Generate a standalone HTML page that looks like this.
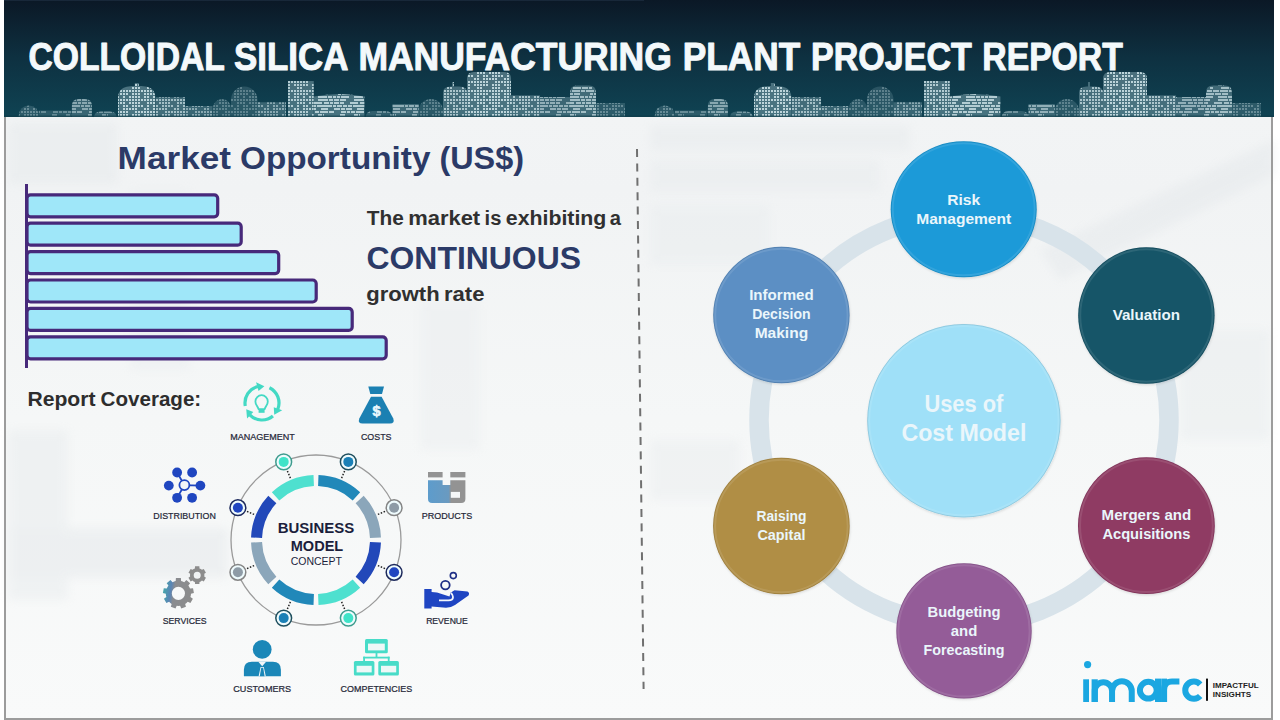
<!DOCTYPE html>
<html><head><meta charset="utf-8"><style>
html,body{margin:0;padding:0;width:1280px;height:720px;overflow:hidden;background:#fff}
svg{display:block;font-family:"Liberation Sans",sans-serif}
</style></head><body>
<svg width="1280" height="720" viewBox="0 0 1280 720">
<defs>
<linearGradient id="hdr" x1="0" y1="0" x2="0" y2="1">
<stop offset="0" stop-color="#0b1826"/><stop offset="0.5" stop-color="#0e3141"/><stop offset="1" stop-color="#0f4353"/>
</linearGradient>
<linearGradient id="bodybg" x1="0" y1="0" x2="0" y2="1">
<stop offset="0" stop-color="#f2f4f5"/><stop offset="0.12" stop-color="#f1f3f4"/><stop offset="0.5" stop-color="#f5f7f7"/><stop offset="1" stop-color="#f9fafa"/>
</linearGradient>
<pattern id="winA" width="30" height="30" patternUnits="userSpaceOnUse">
<rect width="30" height="30" fill="#86aab4" opacity="0.5"/>
<rect x="0" y="0" width="2" height="2" fill="#bcd4da"/>
<rect x="3" y="0" width="2" height="2" fill="#bcd4da"/>
<rect x="6" y="0" width="2" height="2" fill="#bcd4da"/>
<rect x="9" y="0" width="2" height="2" fill="#bcd4da"/>
<rect x="12" y="0" width="2" height="2" fill="#bcd4da"/>
<rect x="15" y="0" width="2" height="2" fill="#bcd4da"/>
<rect x="18" y="0" width="2" height="2" fill="#bcd4da"/>
<rect x="21" y="0" width="2" height="2" fill="#bcd4da"/>
<rect x="24" y="0" width="2" height="2" fill="#bcd4da"/>
<rect x="27" y="0" width="2" height="2" fill="#bcd4da"/>
<rect x="0" y="3" width="2" height="2" fill="#bcd4da"/>
<rect x="3" y="3" width="2" height="2" fill="#bcd4da"/>
<rect x="6" y="3" width="2" height="2" fill="#bcd4da"/>
<rect x="12" y="3" width="2" height="2" fill="#bcd4da"/>
<rect x="15" y="3" width="2" height="2" fill="#bcd4da"/>
<rect x="18" y="3" width="2" height="2" fill="#bcd4da"/>
<rect x="24" y="3" width="2" height="2" fill="#bcd4da"/>
<rect x="27" y="3" width="2" height="2" fill="#bcd4da"/>
<rect x="3" y="6" width="2" height="2" fill="#bcd4da"/>
<rect x="9" y="6" width="2" height="2" fill="#bcd4da"/>
<rect x="12" y="6" width="2" height="2" fill="#bcd4da"/>
<rect x="15" y="6" width="2" height="2" fill="#bcd4da"/>
<rect x="18" y="6" width="2" height="2" fill="#bcd4da"/>
<rect x="24" y="6" width="2" height="2" fill="#bcd4da"/>
<rect x="27" y="6" width="2" height="2" fill="#bcd4da"/>
<rect x="0" y="9" width="2" height="2" fill="#bcd4da"/>
<rect x="3" y="9" width="2" height="2" fill="#bcd4da"/>
<rect x="6" y="9" width="2" height="2" fill="#bcd4da"/>
<rect x="9" y="9" width="2" height="2" fill="#bcd4da"/>
<rect x="12" y="9" width="2" height="2" fill="#bcd4da"/>
<rect x="15" y="9" width="2" height="2" fill="#bcd4da"/>
<rect x="18" y="9" width="2" height="2" fill="#bcd4da"/>
<rect x="21" y="9" width="2" height="2" fill="#bcd4da"/>
<rect x="24" y="9" width="2" height="2" fill="#bcd4da"/>
<rect x="27" y="9" width="2" height="2" fill="#bcd4da"/>
<rect x="0" y="12" width="2" height="2" fill="#bcd4da"/>
<rect x="3" y="12" width="2" height="2" fill="#bcd4da"/>
<rect x="9" y="12" width="2" height="2" fill="#bcd4da"/>
<rect x="12" y="12" width="2" height="2" fill="#bcd4da"/>
<rect x="15" y="12" width="2" height="2" fill="#bcd4da"/>
<rect x="18" y="12" width="2" height="2" fill="#bcd4da"/>
<rect x="27" y="12" width="2" height="2" fill="#bcd4da"/>
<rect x="3" y="15" width="2" height="2" fill="#bcd4da"/>
<rect x="6" y="15" width="2" height="2" fill="#bcd4da"/>
<rect x="12" y="15" width="2" height="2" fill="#bcd4da"/>
<rect x="15" y="15" width="2" height="2" fill="#bcd4da"/>
<rect x="18" y="15" width="2" height="2" fill="#bcd4da"/>
<rect x="21" y="15" width="2" height="2" fill="#bcd4da"/>
<rect x="27" y="15" width="2" height="2" fill="#bcd4da"/>
<rect x="3" y="18" width="2" height="2" fill="#bcd4da"/>
<rect x="6" y="18" width="2" height="2" fill="#bcd4da"/>
<rect x="9" y="18" width="2" height="2" fill="#bcd4da"/>
<rect x="12" y="18" width="2" height="2" fill="#bcd4da"/>
<rect x="15" y="18" width="2" height="2" fill="#bcd4da"/>
<rect x="24" y="18" width="2" height="2" fill="#bcd4da"/>
<rect x="27" y="18" width="2" height="2" fill="#bcd4da"/>
<rect x="0" y="21" width="2" height="2" fill="#bcd4da"/>
<rect x="3" y="21" width="2" height="2" fill="#bcd4da"/>
<rect x="6" y="21" width="2" height="2" fill="#bcd4da"/>
<rect x="15" y="21" width="2" height="2" fill="#bcd4da"/>
<rect x="18" y="21" width="2" height="2" fill="#bcd4da"/>
<rect x="21" y="21" width="2" height="2" fill="#bcd4da"/>
<rect x="24" y="21" width="2" height="2" fill="#bcd4da"/>
<rect x="27" y="21" width="2" height="2" fill="#bcd4da"/>
<rect x="0" y="24" width="2" height="2" fill="#bcd4da"/>
<rect x="3" y="24" width="2" height="2" fill="#bcd4da"/>
<rect x="6" y="24" width="2" height="2" fill="#bcd4da"/>
<rect x="12" y="24" width="2" height="2" fill="#bcd4da"/>
<rect x="15" y="24" width="2" height="2" fill="#bcd4da"/>
<rect x="18" y="24" width="2" height="2" fill="#bcd4da"/>
<rect x="24" y="24" width="2" height="2" fill="#bcd4da"/>
<rect x="27" y="24" width="2" height="2" fill="#bcd4da"/>
<rect x="0" y="27" width="2" height="2" fill="#bcd4da"/>
<rect x="12" y="27" width="2" height="2" fill="#bcd4da"/>
<rect x="15" y="27" width="2" height="2" fill="#bcd4da"/>
<rect x="18" y="27" width="2" height="2" fill="#bcd4da"/>
<rect x="27" y="27" width="2" height="2" fill="#bcd4da"/>
</pattern>
<pattern id="winB" width="36" height="30" patternUnits="userSpaceOnUse">
<rect width="36" height="30" fill="#86aab4" opacity="0.5"/>
<rect x="0" y="0" width="4" height="2" fill="#bcd4da"/>
<rect x="5" y="0" width="4" height="2" fill="#bcd4da"/>
<rect x="10" y="0" width="8" height="2" fill="#bcd4da"/>
<rect x="19" y="0" width="5" height="2" fill="#bcd4da"/>
<rect x="25" y="0" width="6" height="2" fill="#bcd4da"/>
<rect x="32" y="0" width="4" height="2" fill="#bcd4da"/>
<rect x="0" y="3" width="4" height="2" fill="#bcd4da"/>
<rect x="14" y="3" width="3" height="2" fill="#bcd4da"/>
<rect x="18" y="3" width="8" height="2" fill="#bcd4da"/>
<rect x="27" y="3" width="6" height="2" fill="#bcd4da"/>
<rect x="34" y="3" width="2" height="2" fill="#bcd4da"/>
<rect x="0" y="6" width="3" height="2" fill="#bcd4da"/>
<rect x="4" y="6" width="4" height="2" fill="#bcd4da"/>
<rect x="9" y="6" width="3" height="2" fill="#bcd4da"/>
<rect x="13" y="6" width="3" height="2" fill="#bcd4da"/>
<rect x="17" y="6" width="8" height="2" fill="#bcd4da"/>
<rect x="30" y="6" width="6" height="2" fill="#bcd4da"/>
<rect x="0" y="9" width="4" height="2" fill="#bcd4da"/>
<rect x="5" y="9" width="4" height="2" fill="#bcd4da"/>
<rect x="10" y="9" width="5" height="2" fill="#bcd4da"/>
<rect x="16" y="9" width="6" height="2" fill="#bcd4da"/>
<rect x="30" y="9" width="6" height="2" fill="#bcd4da"/>
<rect x="0" y="12" width="5" height="2" fill="#bcd4da"/>
<rect x="6" y="12" width="3" height="2" fill="#bcd4da"/>
<rect x="10" y="12" width="5" height="2" fill="#bcd4da"/>
<rect x="16" y="12" width="4" height="2" fill="#bcd4da"/>
<rect x="26" y="12" width="8" height="2" fill="#bcd4da"/>
<rect x="0" y="15" width="8" height="2" fill="#bcd4da"/>
<rect x="9" y="15" width="3" height="2" fill="#bcd4da"/>
<rect x="13" y="15" width="5" height="2" fill="#bcd4da"/>
<rect x="19" y="15" width="4" height="2" fill="#bcd4da"/>
<rect x="24" y="15" width="4" height="2" fill="#bcd4da"/>
<rect x="29" y="15" width="7" height="2" fill="#bcd4da"/>
<rect x="0" y="18" width="4" height="2" fill="#bcd4da"/>
<rect x="10" y="18" width="6" height="2" fill="#bcd4da"/>
<rect x="17" y="18" width="4" height="2" fill="#bcd4da"/>
<rect x="22" y="18" width="6" height="2" fill="#bcd4da"/>
<rect x="33" y="18" width="3" height="2" fill="#bcd4da"/>
<rect x="0" y="21" width="4" height="2" fill="#bcd4da"/>
<rect x="5" y="21" width="5" height="2" fill="#bcd4da"/>
<rect x="17" y="21" width="5" height="2" fill="#bcd4da"/>
<rect x="23" y="21" width="3" height="2" fill="#bcd4da"/>
<rect x="27" y="21" width="4" height="2" fill="#bcd4da"/>
<rect x="32" y="21" width="4" height="2" fill="#bcd4da"/>
<rect x="16" y="24" width="5" height="2" fill="#bcd4da"/>
<rect x="30" y="24" width="4" height="2" fill="#bcd4da"/>
<rect x="35" y="24" width="1" height="2" fill="#bcd4da"/>
<rect x="0" y="27" width="5" height="2" fill="#bcd4da"/>
<rect x="6" y="27" width="6" height="2" fill="#bcd4da"/>
<rect x="13" y="27" width="3" height="2" fill="#bcd4da"/>
<rect x="22" y="27" width="3" height="2" fill="#bcd4da"/>
<rect x="33" y="27" width="3" height="2" fill="#bcd4da"/>
</pattern>
<filter id="bgblur" x="-20%" y="-20%" width="140%" height="140%"><feGaussianBlur stdDeviation="5"/></filter>
<filter id="sh" x="-20%" y="-20%" width="140%" height="140%">
<feDropShadow dx="0.5" dy="1.2" stdDeviation="1" flood-color="#000" flood-opacity="0.12"/>
</filter>
</defs>
<rect x="0" y="0" width="1280" height="720" fill="#fff"/>
<rect x="4" y="117" width="1269" height="603" fill="url(#bodybg)"/>
<g filter="url(#bgblur)" opacity="0.45">
<rect x="8" y="122" width="110" height="62" fill="#e4e8ea"/>
<rect x="130" y="190" width="60" height="180" fill="#e9edef"/>
<rect x="8" y="430" width="60" height="170" fill="#e6eaec"/>
<rect x="8" y="528" width="220" height="50" fill="#e2e6e9"/>
<rect x="420" y="300" width="60" height="150" fill="#eaedef"/>
<rect x="650" y="125" width="260" height="26" fill="#e5e9eb"/>
<rect x="650" y="160" width="230" height="32" fill="#e7ebed"/>
<rect x="650" y="205" width="120" height="60" fill="#e8ecee"/>
<path d="M1040,250 L1274,140 L1274,175 L1060,280 Z" fill="#e3e7ea"/>
<rect x="1180" y="330" width="90" height="110" fill="#e8ecee"/>
<rect x="650" y="440" width="90" height="60" fill="#e9ecee"/>
</g>
<rect x="4" y="117" width="2" height="603" fill="#9c9c9c"/>
<rect x="1271" y="117" width="2" height="603" fill="#9c9c9c"/>
<rect x="4" y="718" width="1269" height="2" fill="#9c9c9c"/>
<rect x="4" y="0" width="1270" height="117" fill="url(#hdr)"/>
<rect x="4" y="0" width="640" height="1" fill="#1c2c3e" opacity="0.8"/>
<path d="M18.75,117 V115.4 A10.0,10.0 0 0 1 38.75,115.4 V117 Z" fill="url(#winA)" opacity="0.5"/>
<path d="M38.75,117 V110.4 H71.25 V117 Z" fill="url(#winB)" opacity="0.5"/>
<path d="M71.9,117 V106 Q71.9,99 78.9,99 H84.9 Q91.9,99 91.9,106 V117 Z" fill="url(#winB)" opacity="0.7"/>
<path d="M93.75,117 V118.6 Q93.75,111.6 100.75,111.6 H109.9 Q116.9,111.6 116.9,118.6 V117 Z" fill="url(#winB)" opacity="0.6"/>
<path d="M118,117 V100 C118,88 124,86 136.8,86 C149.6,86 155.6,88 155.6,100 V117 Z M134.8,86 V83 H138.8 V86 Z" fill="url(#winA)" opacity="1.0"/>
<path d="M156,117 V97.25 H185 V117 Z" fill="url(#winA)" opacity="0.85"/>
<path d="M185,117 V106 H212.5 V117 Z" fill="url(#winA)" opacity="0.7"/>
<path d="M213,117 V108.0 A9.0,9.0 0 0 1 231,108.0 V117 Z" fill="url(#winA)" opacity="0.45"/>
<path d="M231,117 V99.85 A13.25,13.25 0 0 1 257.5,99.85 V117 Z" fill="url(#winA)" opacity="0.45"/>
<path d="M257.5,117 V102.25 H286 V117 Z" fill="url(#winA)" opacity="0.7"/>
<path d="M288,117 V81 H313.75 V117 Z" fill="url(#winA)" opacity="0.95"/>
<path d="M314,117 V96.5 Q339.2,91.5 364.4,96.5 V117 Z" fill="url(#winB)" opacity="0.95"/>
<path d="M365.6,117 V118 Q365.6,111 372.6,111 H385.5 Q392.5,111 392.5,118 V117 Z" fill="url(#winB)" opacity="0.55"/>
<path d="M392.5,117 V104 H418.75 V117 Z" fill="url(#winB)" opacity="0.75"/>
<path d="M418.75,117 V111.125 A12.125,12.125 0 0 1 443,111.125 V117 Z" fill="url(#winA)" opacity="0.45"/>
<path d="M443,117 V92.6 Q443,86.6 451,86.6 H459 Q467,86.6 467,92.6 V117 Z M452,86.6 V82.1 H454 V86.6 Z" fill="url(#winA)" opacity="0.9"/>
<path d="M467,117 V79 Q467,72 474,72 H504 Q511,72 511,79 V117 Z" fill="url(#winA)" opacity="1.0"/>
<path d="M511,117 V95.4 H540 V117 Z" fill="url(#winA)" opacity="0.9"/>
<path d="M540,117 V97 H570 V117 Z" fill="url(#winB)" opacity="0.75"/>
<path d="M570,117 V92.4 Q570,85.4 577,85.4 H589 Q596,85.4 596,92.4 V117 Z" fill="url(#winB)" opacity="0.85"/>
<path d="M596,117 V103 H625 V117 Z" fill="url(#winA)" opacity="0.5"/>
<path d="M654.75,117 V115.4 A10.0,10.0 0 0 1 674.75,115.4 V117 Z" fill="url(#winA)" opacity="0.5"/>
<path d="M674.75,117 V110.4 H707.25 V117 Z" fill="url(#winB)" opacity="0.5"/>
<path d="M707.9,117 V106 Q707.9,99 714.9,99 H720.9 Q727.9,99 727.9,106 V117 Z" fill="url(#winB)" opacity="0.7"/>
<path d="M729.75,117 V118.6 Q729.75,111.6 736.75,111.6 H745.9 Q752.9,111.6 752.9,118.6 V117 Z" fill="url(#winB)" opacity="0.6"/>
<path d="M754,117 V100 C754,88 760,86 772.8,86 C785.6,86 791.6,88 791.6,100 V117 Z M770.8,86 V83 H774.8 V86 Z" fill="url(#winA)" opacity="1.0"/>
<path d="M792,117 V97.25 H821 V117 Z" fill="url(#winA)" opacity="0.85"/>
<path d="M821,117 V106 H848.5 V117 Z" fill="url(#winA)" opacity="0.7"/>
<path d="M849,117 V108.0 A9.0,9.0 0 0 1 867,108.0 V117 Z" fill="url(#winA)" opacity="0.45"/>
<path d="M867,117 V99.85 A13.25,13.25 0 0 1 893.5,99.85 V117 Z" fill="url(#winA)" opacity="0.45"/>
<path d="M893.5,117 V102.25 H922 V117 Z" fill="url(#winA)" opacity="0.7"/>
<path d="M924,117 V81 H949.75 V117 Z" fill="url(#winA)" opacity="0.95"/>
<path d="M950,117 V96.5 Q975.2,91.5 1000.4,96.5 V117 Z" fill="url(#winB)" opacity="0.95"/>
<path d="M1001.6,117 V118 Q1001.6,111 1008.6,111 H1021.5 Q1028.5,111 1028.5,118 V117 Z" fill="url(#winB)" opacity="0.55"/>
<path d="M1028.5,117 V104 H1054.75 V117 Z" fill="url(#winB)" opacity="0.75"/>
<path d="M1054.75,117 V111.125 A12.125,12.125 0 0 1 1079,111.125 V117 Z" fill="url(#winA)" opacity="0.45"/>
<path d="M1079,117 V92.6 Q1079,86.6 1087,86.6 H1095 Q1103,86.6 1103,92.6 V117 Z M1088,86.6 V82.1 H1090 V86.6 Z" fill="url(#winA)" opacity="0.9"/>
<path d="M1103,117 V79 Q1103,72 1110,72 H1140 Q1147,72 1147,79 V117 Z" fill="url(#winA)" opacity="1.0"/>
<path d="M1147,117 V95.4 H1176 V117 Z" fill="url(#winA)" opacity="0.9"/>
<path d="M1176,117 V97 H1206 V117 Z" fill="url(#winB)" opacity="0.75"/>
<path d="M1206,117 V92.4 Q1206,85.4 1213,85.4 H1225 Q1232,85.4 1232,92.4 V117 Z" fill="url(#winB)" opacity="0.85"/>
<path d="M1232,117 V103 H1261 V117 Z" fill="url(#winA)" opacity="0.5"/>
<rect x="4" y="115.5" width="1270" height="1.5" fill="#0e3a48" opacity="0.6"/>
<g font-size="38" font-weight="bold" fill="#f4f9fb" stroke="#f4f9fb" stroke-width="1.0" stroke-linejoin="round">
<text x="28.5" y="69.7" textLength="196.3" lengthAdjust="spacingAndGlyphs">COLLOIDAL</text>
<text x="234.1" y="69.7" textLength="114.3" lengthAdjust="spacingAndGlyphs">SILICA</text>
<text x="358.4" y="69.7" textLength="313.4" lengthAdjust="spacingAndGlyphs">MANUFACTURING</text>
<text x="682.7" y="69.7" textLength="117.5" lengthAdjust="spacingAndGlyphs">PLANT</text>
<text x="811.0" y="69.7" textLength="160.8" lengthAdjust="spacingAndGlyphs">PROJECT</text>
<text x="982.3" y="69.7" textLength="140.5" lengthAdjust="spacingAndGlyphs">REPORT</text>
</g>

<text x="117.60" y="169.4" font-size="31" font-weight="bold" fill="#2b3a67" textLength="113.40" lengthAdjust="spacingAndGlyphs">Market</text>
<text x="240.00" y="169.4" font-size="31" font-weight="bold" fill="#2b3a67" textLength="190.40" lengthAdjust="spacingAndGlyphs">Opportunity</text>
<text x="439.40" y="169.4" font-size="31" font-weight="bold" fill="#2b3a67" textLength="84.60" lengthAdjust="spacingAndGlyphs">(US$)</text>
<rect x="27" y="194.8" width="190.7" height="22" rx="3.5" fill="#9fe7f9" stroke="#47297a" stroke-width="3.2"/>
<rect x="27" y="223.2" width="214.2" height="22" rx="3.5" fill="#9fe7f9" stroke="#47297a" stroke-width="3.2"/>
<rect x="27" y="251.6" width="251.7" height="22" rx="3.5" fill="#9fe7f9" stroke="#47297a" stroke-width="3.2"/>
<rect x="27" y="280.0" width="289.2" height="22" rx="3.5" fill="#9fe7f9" stroke="#47297a" stroke-width="3.2"/>
<rect x="27" y="308.4" width="325.2" height="22" rx="3.5" fill="#9fe7f9" stroke="#47297a" stroke-width="3.2"/>
<rect x="27" y="336.8" width="359.2" height="22" rx="3.5" fill="#9fe7f9" stroke="#47297a" stroke-width="3.2"/>
<rect x="25" y="184" width="3" height="184" fill="#47297a"/>
<text x="366.80" y="224.6" font-size="20" font-weight="bold" fill="#303030" textLength="37.00" lengthAdjust="spacingAndGlyphs">The</text>
<text x="408.20" y="224.6" font-size="20" font-weight="bold" fill="#303030" textLength="72.00" lengthAdjust="spacingAndGlyphs">market</text>
<text x="484.60" y="224.6" font-size="20" font-weight="bold" fill="#303030" textLength="16.80" lengthAdjust="spacingAndGlyphs">is</text>
<text x="505.80" y="224.6" font-size="20" font-weight="bold" fill="#303030" textLength="100.60" lengthAdjust="spacingAndGlyphs">exhibiting</text>
<text x="609.80" y="224.6" font-size="20" font-weight="bold" fill="#303030" textLength="11.20" lengthAdjust="spacingAndGlyphs">a</text>
<text x="366.5" y="269.4" font-size="31.5" font-weight="bold" fill="#2b3a67" textLength="214.5" lengthAdjust="spacingAndGlyphs">CONTINUOUS</text>
<text x="366.20" y="301" font-size="20" font-weight="bold" fill="#303030" textLength="73.40" lengthAdjust="spacingAndGlyphs">growth</text>
<text x="444.00" y="301" font-size="20" font-weight="bold" fill="#303030" textLength="40.40" lengthAdjust="spacingAndGlyphs">rate</text>
<line x1="637" y1="149" x2="643.6" y2="689" stroke="#707070" stroke-width="2" stroke-dasharray="8 6.4"/>
<text x="27.40" y="405.5" font-size="19.5" font-weight="bold" fill="#2d2d2d" textLength="68.20" lengthAdjust="spacingAndGlyphs">Report</text>
<text x="100.60" y="405.5" font-size="19.5" font-weight="bold" fill="#2d2d2d" textLength="100.60" lengthAdjust="spacingAndGlyphs">Coverage:</text>

<circle cx="316" cy="540" r="85" fill="none" stroke="#9a9a9a" stroke-width="1.3"/>
<path d="M318.28,480.54 A59.5,59.5 0 0 1 356.43,496.34" fill="none" stroke="#2188b9" stroke-width="11"/>
<path d="M359.66,499.57 A59.5,59.5 0 0 1 375.46,537.72" fill="none" stroke="#8ba6ba" stroke-width="11"/>
<path d="M375.46,542.28 A59.5,59.5 0 0 1 359.66,580.43" fill="none" stroke="#2248b9" stroke-width="11"/>
<path d="M356.43,583.66 A59.5,59.5 0 0 1 318.28,599.46" fill="none" stroke="#4ee0cf" stroke-width="11"/>
<path d="M313.72,599.46 A59.5,59.5 0 0 1 275.57,583.66" fill="none" stroke="#2188b9" stroke-width="11"/>
<path d="M272.34,580.43 A59.5,59.5 0 0 1 256.54,542.28" fill="none" stroke="#8ba6ba" stroke-width="11"/>
<path d="M256.54,537.72 A59.5,59.5 0 0 1 272.34,499.57" fill="none" stroke="#2248b9" stroke-width="11"/>
<path d="M275.57,496.34 A59.5,59.5 0 0 1 313.72,480.54" fill="none" stroke="#4ee0cf" stroke-width="11"/>
<line x1="290.4" y1="478.1" x2="286.9" y2="469.8" stroke="#222" stroke-width="1.5" stroke-dasharray="1.5 1.6"/>
<circle cx="283.7" cy="461.9" r="7.9" fill="#effbfd" stroke="#3e9c8e" stroke-width="1.5"/>
<circle cx="283.7" cy="461.9" r="5" fill="#3fe3c8"/>
<line x1="341.6" y1="478.1" x2="345.1" y2="469.8" stroke="#222" stroke-width="1.5" stroke-dasharray="1.5 1.6"/>
<circle cx="348.3" cy="461.9" r="7.9" fill="#effbfd" stroke="#1f4f5e" stroke-width="1.5"/>
<circle cx="348.3" cy="461.9" r="5" fill="#1b80b6"/>
<line x1="377.9" y1="514.4" x2="386.2" y2="510.9" stroke="#222" stroke-width="1.5" stroke-dasharray="1.5 1.6"/>
<circle cx="394.1" cy="507.7" r="7.9" fill="#effbfd" stroke="#858585" stroke-width="1.5"/>
<circle cx="394.1" cy="507.7" r="5" fill="#8e9ba6"/>
<line x1="377.9" y1="565.6" x2="386.2" y2="569.1" stroke="#222" stroke-width="1.5" stroke-dasharray="1.5 1.6"/>
<circle cx="394.1" cy="572.3" r="7.9" fill="#effbfd" stroke="#1e2a5c" stroke-width="1.5"/>
<circle cx="394.1" cy="572.3" r="5" fill="#2045c0"/>
<line x1="341.6" y1="601.9" x2="345.1" y2="610.2" stroke="#222" stroke-width="1.5" stroke-dasharray="1.5 1.6"/>
<circle cx="348.3" cy="618.1" r="7.9" fill="#effbfd" stroke="#3e9c8e" stroke-width="1.5"/>
<circle cx="348.3" cy="618.1" r="5" fill="#3fe3c8"/>
<line x1="290.4" y1="601.9" x2="286.9" y2="610.2" stroke="#222" stroke-width="1.5" stroke-dasharray="1.5 1.6"/>
<circle cx="283.7" cy="618.1" r="7.9" fill="#effbfd" stroke="#1f4f5e" stroke-width="1.5"/>
<circle cx="283.7" cy="618.1" r="5" fill="#1b80b6"/>
<line x1="254.1" y1="565.6" x2="245.8" y2="569.1" stroke="#222" stroke-width="1.5" stroke-dasharray="1.5 1.6"/>
<circle cx="237.9" cy="572.3" r="7.9" fill="#effbfd" stroke="#858585" stroke-width="1.5"/>
<circle cx="237.9" cy="572.3" r="5" fill="#8e9ba6"/>
<line x1="254.1" y1="514.4" x2="245.8" y2="510.9" stroke="#222" stroke-width="1.5" stroke-dasharray="1.5 1.6"/>
<circle cx="237.9" cy="507.7" r="7.9" fill="#effbfd" stroke="#1e2a5c" stroke-width="1.5"/>
<circle cx="237.9" cy="507.7" r="5" fill="#2045c0"/>
<text x="316" y="533.4" text-anchor="middle" font-size="14.5" font-weight="bold" fill="#1b1e3c" textLength="76.5" lengthAdjust="spacingAndGlyphs">BUSINESS</text>
<text x="317" y="550.6" text-anchor="middle" font-size="14.5" font-weight="bold" fill="#1b1e3c" textLength="52.5" lengthAdjust="spacingAndGlyphs">MODEL</text>
<text x="316.3" y="565.1" text-anchor="middle" font-size="11" fill="#1b1e3c" textLength="51.3" lengthAdjust="spacingAndGlyphs">CONCEPT</text>

<path d="M245.26,405.95 A17,17 0 0 1 257.89,386.50" fill="none" stroke="#43d9c4" stroke-width="3.2"/>
<path d="M258.55,390.98 L256.07,382.33 L264.37,386.17 Z" fill="#43d9c4"/>
<path d="M269.45,387.72 A17,17 0 0 1 277.76,409.37" fill="none" stroke="#43d9c4" stroke-width="3.2"/>
<path d="M273.75,407.28 L282.20,410.35 L274.23,414.81 Z" fill="#43d9c4"/>
<path d="M272.93,416.02 A17,17 0 0 1 249.77,414.81" fill="none" stroke="#43d9c4" stroke-width="3.2"/>
<path d="M253.32,411.99 L247.06,418.47 L246.24,409.37 Z" fill="#43d9c4"/>
<path d="M258.6,409.2 C257.6,406 255.4,404.8 255.4,401.4 A6.2,6.2 0 1 1 267.8,401.4 C267.8,404.8 265.6,406 264.6,409.2 Z" fill="none" stroke="#43d9c4" stroke-width="1.8" stroke-linejoin="round"/>
<rect x="258.6" y="409" width="6" height="3.8" fill="#43d9c4"/>
<path d="M368.3,386.6 H384 L382,394 H370.3 Z" fill="#1b80b2"/>
<path d="M371,396.8 H381.6 L393.3,418.5 Q395,423.6 390,423.6 H362.5 Q357.5,423.6 359.3,418.5 Z" fill="#1b80b2"/>
<text x="376.5" y="416.3" text-anchor="middle" font-size="14.5" font-weight="bold" fill="#eaf8fc" stroke="#eaf8fc" stroke-width="0.6">$</text>
<g fill="#1f46c0" stroke="none">
<circle cx="177.1" cy="472.5" r="4.9"/>
<circle cx="192.1" cy="472.5" r="4.9"/>
<circle cx="168.8" cy="485.6" r="4.9"/>
<circle cx="200.4" cy="485.6" r="4.9"/>
<circle cx="177.1" cy="497.8" r="4.9"/>
<circle cx="192.1" cy="497.8" r="4.9"/>
</g>
<path d="M177.1,472.5 L184.4,485.1 L200.4,485.6 M184.4,485.1 L177.1,497.8" stroke="#1f46c0" stroke-width="1.8" fill="none"/>
<circle cx="184.4" cy="485.1" r="5" fill="#f2f5f8" stroke="#1f46c0" stroke-width="1.8"/>
<defs><linearGradient id="prodg" x1="0" y1="0" x2="1" y2="0"><stop offset="0" stop-color="#5d9ccc"/><stop offset="0.55" stop-color="#6a9ac0"/><stop offset="0.62" stop-color="#939393"/><stop offset="1" stop-color="#939393"/></linearGradient></defs>
<rect x="428" y="472" width="14.6" height="5.4" fill="#939393"/>
<rect x="450.3" y="472" width="15.1" height="5.4" fill="#939393"/>
<path d="M428,480.3 H442.6 V485 H450.3 V480.3 H465.4 V499 Q465.4,503.1 461.3,503.1 H432.1 Q428,503.1 428,499 Z" fill="url(#prodg)"/>
<rect x="450.8" y="491.9" width="9.2" height="5.9" fill="#f5f7f8"/>
<defs><linearGradient id="gearg" x1="0" y1="0" x2="1" y2="0.15"><stop offset="0" stop-color="#3fb0a8"/><stop offset="0.3" stop-color="#5a85b5"/><stop offset="0.42" stop-color="#8a8c90"/><stop offset="1" stop-color="#8c8c8c"/></linearGradient></defs>
<path d="M174.09,581.46 L175.69,580.99 L175.92,578.00 L180.88,578.00 L181.11,580.99 L182.71,581.46 L184.24,582.13 L186.34,579.99 L190.13,583.17 L188.38,585.61 L189.31,587.00 L190.05,588.50 L193.04,588.20 L193.90,593.08 L190.99,593.83 L190.81,595.49 L190.41,597.11 L192.89,598.80 L190.41,603.10 L187.70,601.80 L186.50,602.95 L185.15,603.94 L185.96,606.83 L181.30,608.53 L180.07,605.79 L178.40,605.90 L176.73,605.79 L175.50,608.53 L170.84,606.83 L171.65,603.94 L170.30,602.95 L169.10,601.80 L166.39,603.10 L163.91,598.80 L166.39,597.11 L165.99,595.49 L165.81,593.83 L162.90,593.08 L163.76,588.20 L166.75,588.50 L167.49,587.00 L168.42,585.61 L166.67,583.17 L170.46,579.99 L172.56,582.13 Z M185.0,593.3 A6.6,6.6 0 1 0 171.8,593.3 A6.6,6.6 0 1 0 185.0,593.3 Z" fill="url(#gearg)" fill-rule="evenodd"/>
<path d="M193.60,568.96 L194.90,568.38 L195.03,566.36 L199.37,566.36 L199.50,568.38 L200.80,568.96 L201.96,569.80 L203.77,568.90 L205.94,572.66 L204.26,573.78 L204.40,575.20 L204.26,576.62 L205.94,577.74 L203.77,581.50 L201.96,580.60 L200.80,581.44 L199.50,582.02 L199.37,584.04 L195.03,584.04 L194.90,582.02 L193.60,581.44 L192.44,580.60 L190.63,581.50 L188.46,577.74 L190.14,576.62 L190.00,575.20 L190.14,573.78 L188.46,572.66 L190.63,568.90 L192.44,569.80 Z M200.7,575.2 A3.5,3.5 0 1 0 193.7,575.2 A3.5,3.5 0 1 0 200.7,575.2 Z" fill="#8c8c8c" fill-rule="evenodd"/>
<path d="M424.3,589.1 H431.6 V592.1 L437,592.6 L449.5,596.6 L450.5,592.8 L454.5,590.3 L467.5,591.6 Q470,593 468.5,595.5 L455,605 Q451,607.8 446,607.8 L431.6,606.4 V608.6 H424.3 Z" fill="#1f45c2"/>
<path d="M439,600.4 H448.5 Q453,600.4 453,597 Q453,594.5 450.8,593" stroke="#f3f6fb" stroke-width="1.8" fill="none"/>
<circle cx="445.4" cy="585.1" r="4.3" fill="none" stroke="#1f2f86" stroke-width="1.8"/>
<circle cx="453.3" cy="575.6" r="3" fill="none" stroke="#1f2f86" stroke-width="1.6"/>
<circle cx="262.2" cy="649.4" r="9.4" fill="#1b87b8"/>
<path d="M243.9,676.3 V669.7 Q243.9,661.7 251.9,661.7 H272.9 Q280.9,661.7 280.9,669.7 V676.3 Z" fill="#1b87b8"/>
<path d="M258.3,661.7 H266.1 L262.2,666.2 Z M260.6,667 H263.8 L265.8,676.3 H258.6 Z" fill="#f3f6f8"/>
<path d="M261.2,667.8 H263.2 L264.6,676.3 H259.8 Z" fill="#1b87b8"/>
<g fill="#48dcc8">
<rect x="365" y="638.9" width="22.8" height="14.4" rx="1.5"/>
<rect x="353.9" y="661.1" width="20.5" height="14.5" rx="1.5"/>
<rect x="378.3" y="661.1" width="20.6" height="14.5" rx="1.5"/>
<rect x="375.6" y="653" width="1.8" height="4.5"/>
<rect x="363.2" y="656.7" width="26.4" height="1.8"/>
<rect x="363.2" y="656.7" width="1.8" height="5"/>
<rect x="387.8" y="656.7" width="1.8" height="5"/>
</g>
<g fill="#eef8f7">
<rect x="368" y="643.6" width="16.8" height="6.8"/>
<rect x="356.6" y="665.8" width="15.1" height="6.6"/>
<rect x="381" y="665.8" width="15.2" height="6.6"/>
</g>
<g font-size="9" fill="#262838" stroke="#262838" stroke-width="0.22">
<text x="262.5" y="439.6" text-anchor="middle" textLength="64.6" lengthAdjust="spacingAndGlyphs">MANAGEMENT</text>
<text x="376.2" y="439.6" text-anchor="middle" textLength="30.6" lengthAdjust="spacingAndGlyphs">COSTS</text>
<text x="184.6" y="518.7" text-anchor="middle" textLength="62.6" lengthAdjust="spacingAndGlyphs">DISTRIBUTION</text>
<text x="447" y="518.7" text-anchor="middle" textLength="50.5" lengthAdjust="spacingAndGlyphs">PRODUCTS</text>
<text x="184.7" y="624.4" text-anchor="middle" textLength="43.9" lengthAdjust="spacingAndGlyphs">SERVICES</text>
<text x="447" y="624.4" text-anchor="middle" textLength="41.7" lengthAdjust="spacingAndGlyphs">REVENUE</text>
<text x="262.2" y="691.7" text-anchor="middle" textLength="57.8" lengthAdjust="spacingAndGlyphs">CUSTOMERS</text>
<text x="376.4" y="691.7" text-anchor="middle" textLength="71.6" lengthAdjust="spacingAndGlyphs">COMPETENCIES</text>
</g>

<!-- right -->
<circle cx="964" cy="420" r="205" fill="none" stroke="#d8e3ea" stroke-width="19.5"/>
<ellipse cx="963.9" cy="420.7" rx="96.7" ry="96.7" fill="#9fe0f8" filter="url(#sh)"/>
<ellipse cx="963.9" cy="420.7" rx="94.7" ry="94.7" fill="none" stroke="#ffffff" stroke-opacity="0.10" stroke-width="2"/>
<ellipse cx="963.9" cy="420.7" rx="96.3" ry="96.3" fill="none" stroke="#000000" stroke-opacity="0.12" stroke-width="0.8"/>
<text x="963.9" y="412.3" text-anchor="middle" font-size="23" font-weight="bold" fill="#eaf6fb" textLength="79" lengthAdjust="spacingAndGlyphs">Uses of</text>
<text x="963.9" y="441.3" text-anchor="middle" font-size="23" font-weight="bold" fill="#eaf6fb" textLength="125" lengthAdjust="spacingAndGlyphs">Cost Model</text>
<ellipse cx="963.7" cy="209.3" rx="73" ry="68" fill="#1a9ad8" filter="url(#sh)"/>
<ellipse cx="963.7" cy="209.3" rx="71" ry="66" fill="none" stroke="#ffffff" stroke-opacity="0.10" stroke-width="2"/>
<ellipse cx="963.7" cy="209.3" rx="72.6" ry="67.6" fill="none" stroke="#000000" stroke-opacity="0.12" stroke-width="0.8"/>
<text x="963.7" y="204.6" text-anchor="middle" font-size="15.5" font-weight="bold" fill="#eaf6fb" textLength="33" lengthAdjust="spacingAndGlyphs">Risk</text>
<text x="963.7" y="223.6" text-anchor="middle" font-size="15.5" font-weight="bold" fill="#eaf6fb" textLength="95" lengthAdjust="spacingAndGlyphs">Management</text>
<ellipse cx="1146.4" cy="315.5" rx="68.2" ry="68.2" fill="#175468" filter="url(#sh)"/>
<ellipse cx="1146.4" cy="315.5" rx="66.2" ry="66.2" fill="none" stroke="#ffffff" stroke-opacity="0.10" stroke-width="2"/>
<ellipse cx="1146.4" cy="315.5" rx="67.8" ry="67.8" fill="none" stroke="#000000" stroke-opacity="0.12" stroke-width="0.8"/>
<text x="1146.4" y="320.1" text-anchor="middle" font-size="15.5" font-weight="bold" fill="#eaf6fb" textLength="67.5" lengthAdjust="spacingAndGlyphs">Valuation</text>
<ellipse cx="1146.4" cy="525.7" rx="68.4" ry="68.4" fill="#8f3a64" filter="url(#sh)"/>
<ellipse cx="1146.4" cy="525.7" rx="66.4" ry="66.4" fill="none" stroke="#ffffff" stroke-opacity="0.10" stroke-width="2"/>
<ellipse cx="1146.4" cy="525.7" rx="68.0" ry="68.0" fill="none" stroke="#000000" stroke-opacity="0.12" stroke-width="0.8"/>
<text x="1146.4" y="520.4" text-anchor="middle" font-size="15.5" font-weight="bold" fill="#eaf6fb" textLength="89.6" lengthAdjust="spacingAndGlyphs">Mergers and</text>
<text x="1146.4" y="539.4" text-anchor="middle" font-size="15.5" font-weight="bold" fill="#eaf6fb" textLength="88" lengthAdjust="spacingAndGlyphs">Acquisitions</text>
<ellipse cx="964" cy="630.9" rx="67.7" ry="67.7" fill="#945c98" filter="url(#sh)"/>
<ellipse cx="964" cy="630.9" rx="65.7" ry="65.7" fill="none" stroke="#ffffff" stroke-opacity="0.10" stroke-width="2"/>
<ellipse cx="964" cy="630.9" rx="67.3" ry="67.3" fill="none" stroke="#000000" stroke-opacity="0.12" stroke-width="0.8"/>
<text x="964" y="617.1" text-anchor="middle" font-size="15.5" font-weight="bold" fill="#eaf6fb" textLength="73" lengthAdjust="spacingAndGlyphs">Budgeting</text>
<text x="964" y="636.1" text-anchor="middle" font-size="15.5" font-weight="bold" fill="#eaf6fb" textLength="26.5" lengthAdjust="spacingAndGlyphs">and</text>
<text x="964" y="655.1" text-anchor="middle" font-size="15.5" font-weight="bold" fill="#eaf6fb" textLength="81" lengthAdjust="spacingAndGlyphs">Forecasting</text>
<ellipse cx="781.4" cy="526" rx="68.3" ry="68.3" fill="#b08e45" filter="url(#sh)"/>
<ellipse cx="781.4" cy="526" rx="66.3" ry="66.3" fill="none" stroke="#ffffff" stroke-opacity="0.10" stroke-width="2"/>
<ellipse cx="781.4" cy="526" rx="67.89999999999999" ry="67.89999999999999" fill="none" stroke="#000000" stroke-opacity="0.12" stroke-width="0.8"/>
<text x="781.4" y="520.6" text-anchor="middle" font-size="15.5" font-weight="bold" fill="#eaf6fb" textLength="50" lengthAdjust="spacingAndGlyphs">Raising</text>
<text x="781.4" y="539.6" text-anchor="middle" font-size="15.5" font-weight="bold" fill="#eaf6fb" textLength="48" lengthAdjust="spacingAndGlyphs">Capital</text>
<ellipse cx="781.4" cy="315" rx="68.2" ry="68.2" fill="#5b8fc4" filter="url(#sh)"/>
<ellipse cx="781.4" cy="315" rx="66.2" ry="66.2" fill="none" stroke="#ffffff" stroke-opacity="0.10" stroke-width="2"/>
<ellipse cx="781.4" cy="315" rx="67.8" ry="67.8" fill="none" stroke="#000000" stroke-opacity="0.12" stroke-width="0.8"/>
<text x="781.4" y="299.6" text-anchor="middle" font-size="15.5" font-weight="bold" fill="#eaf6fb" textLength="64.5" lengthAdjust="spacingAndGlyphs">Informed</text>
<text x="781.4" y="318.9" text-anchor="middle" font-size="15.5" font-weight="bold" fill="#eaf6fb" textLength="58.5" lengthAdjust="spacingAndGlyphs">Decision</text>
<text x="781.4" y="338.2" text-anchor="middle" font-size="15.5" font-weight="bold" fill="#eaf6fb" textLength="53.5" lengthAdjust="spacingAndGlyphs">Making</text>

<!-- logo -->
<g fill="#1ba7e1">
<circle cx="1087.6" cy="664.6" r="3.6"/>
<rect x="1083.2" y="679.3" width="5.8" height="22.7"/>
<rect x="1091.6" y="679.3" width="6.2" height="22.7"/>
<rect x="1155" y="678.6" width="6" height="23.4"/>
<rect x="1161.2" y="678.6" width="5.8" height="23.4"/>
</g>
<g fill="none" stroke="#1ba7e1" stroke-width="6">
<path d="M1094.75,702 V690.95 A8.65,8.65 0 0 1 1112.05,690.95 V702 M1112.05,690.95 A9.85,9.85 0 0 1 1131.75,690.95 V702"/>
<circle cx="1148.3" cy="690.2" r="8.4"/>
<path d="M1164.1,702 V690 Q1164.1,681.6 1172,681.6 H1179.4"/>
<path d="M1200.2,684.4 A8.6,8.6 0 1 0 1200.2,696"/>
</g>
<rect x="1206" y="678.6" width="2" height="22.2" fill="#111"/>
<text x="1212.8" y="687.6" font-size="8" font-weight="bold" fill="#222" textLength="45.8" lengthAdjust="spacingAndGlyphs">IMPACTFUL</text>
<text x="1212.8" y="696.9" font-size="8" font-weight="bold" fill="#222" textLength="38.4" lengthAdjust="spacingAndGlyphs">INSIGHTS</text>
</svg>
</body></html>
